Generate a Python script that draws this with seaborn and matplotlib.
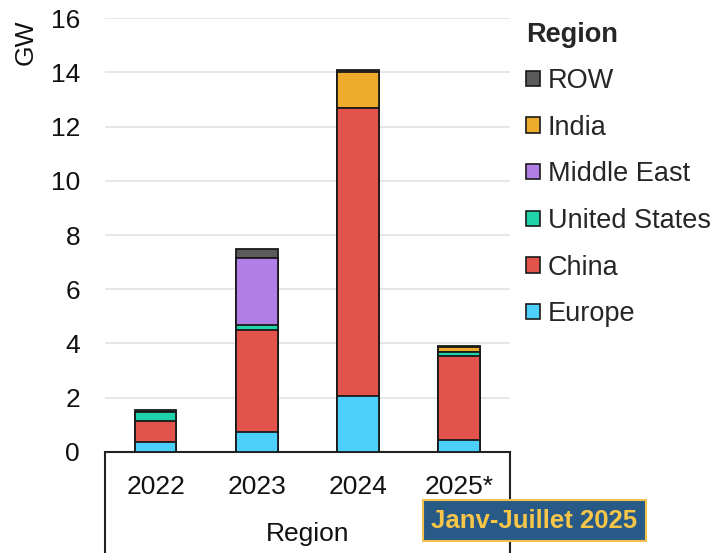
import pandas as pd
import matplotlib.pyplot as plt
import seaborn as sns
from matplotlib.patches import Patch
from matplotlib.lines import Line2D

# Données (GW)
years = ['2022', '2023', '2024', '2025*']
regions = ['Europe', 'China', 'United States', 'Middle East', 'India', 'ROW']
europe = [0.37, 0.72, 2.06, 0.45]
china = [0.76, 3.77, 10.61, 3.09]
united_states = [0.35, 0.18, 0.0, 0.15]
middle_east = [0.0, 2.47, 0.0, 0.0]
india = [0.0, 0.0, 1.35, 0.16]
row = [0.06, 0.34, 0.06, 0.06]

colors = ['#4dcffc', '#e2534b', '#1fd3a8', '#b07ee6', '#efac2c', '#5b5b5b']

sns.set_theme(style='white')
plt.rcParams['font.family'] = ['Liberation Sans', 'DejaVu Sans']

df = pd.DataFrame({'Year': years, 'Europe': europe, 'China': china,
                   'United States': united_states, 'Middle East': middle_east,
                   'India': india, 'ROW': row})
cum = df[regions].cumsum(axis=1)

fig = plt.figure(figsize=(7.2, 5.53), dpi=100)
ax = fig.add_axes([0.146, 0.183, 0.562, 0.784])

# barres empilées : on dessine les cumuls du plus haut au plus bas
for reg, col in reversed(list(zip(regions, colors))):
    sns.barplot(x=df['Year'], y=cum[reg], color=col, saturation=1, width=0.41,
                edgecolor='#1a1a1a', linewidth=1.3, ax=ax, zorder=3)

ax.set_ylim(0, 16)
ax.set_yticks(range(0, 17, 2))
ax.grid(axis='y', color='#e3e3e3', linewidth=1.2, zorder=0)
ax.set_axisbelow(True)
for s in ['top', 'right', 'left']:
    ax.spines[s].set_visible(False)
ax.spines['bottom'].set_color('#222222')
ax.spines['bottom'].set_linewidth(1.5)
ax.tick_params(axis='y', length=0, pad=18, labelsize=19, labelcolor='#111111')
ax.tick_params(axis='x', length=0, pad=17, labelsize=19, labelcolor='#111111')
ax.set_ylabel('')
ax.set_xlabel('Region', fontsize=19, color='#111111', labelpad=16)

# cadre sous l'axe des x
for xv in [0, 1]:
    ax.add_line(Line2D([xv, xv], [0, -0.26], transform=ax.transAxes,
                       color='#222222', linewidth=1.5, clip_on=False))

fig.text(0.035, 0.965, 'GW', rotation=90, ha='center', va='top',
         fontsize=19, color='#111111')

# légende
handles = [Patch(facecolor=c, edgecolor='#1a1a1a', linewidth=1.2, label=r)
           for r, c in reversed(list(zip(regions, colors)))]
leg = fig.legend(handles=handles, title='Region', loc='upper left',
                 bbox_to_anchor=(0.697, 1.005), frameon=False, fontsize=19.5,
                 title_fontsize=19.5, handlelength=0.5, handleheight=0.5,
                 handletextpad=0.3, labelspacing=0.76, alignment='left')
leg.get_title().set_fontweight('bold')
leg._legend_box.align = 'left'

# encadré période
fig.text(0.742, 0.058, 'Janv-Juillet 2025', ha='center', va='center',
         fontsize=18.5, fontweight='bold', color='#f7c548',
         bbox=dict(boxstyle='square,pad=0.33', facecolor='#275a87',
                   edgecolor='#f2c14e', linewidth=1.5))

fig.savefig('out.png', dpi=100)
